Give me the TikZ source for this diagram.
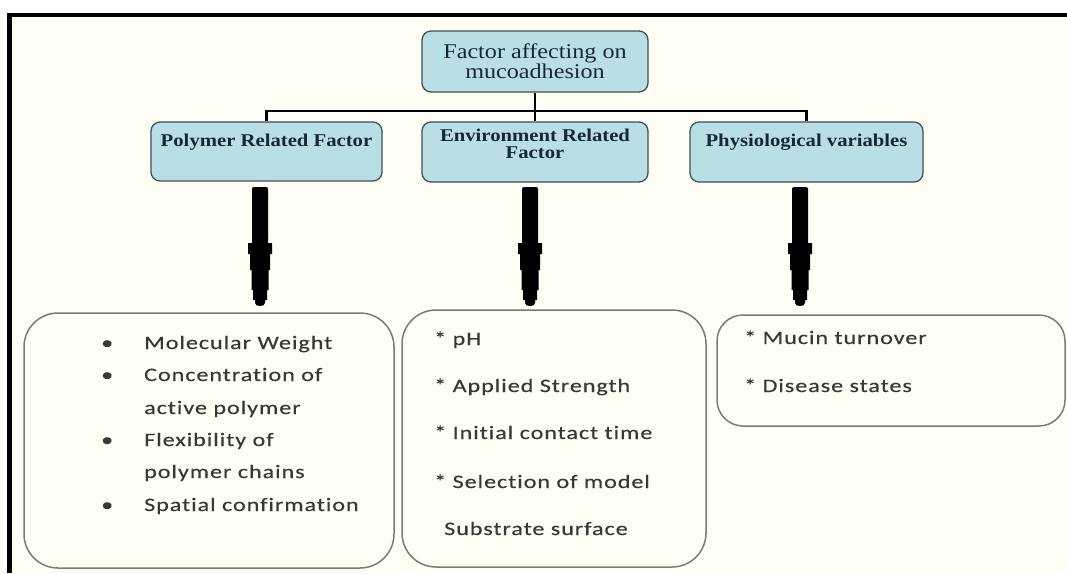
\documentclass[tikz,border=0pt]{standalone}
\usepackage{fontspec}
\setmainfont{Liberation Serif}
\newfontfamily\serifw{Liberation Serif}[FakeStretch=1.15]
\newfontfamily\sansw{Carlito}[FakeStretch=1.27,LetterSpace=5,Ligatures={NoCommon},FakeBold=0.3]
\definecolor{cream}{HTML}{FEFEF4}
\definecolor{boxblue}{HTML}{B9DFE4}
\definecolor{boxline}{HTML}{3E5058}
\definecolor{navy}{HTML}{15283A}
\definecolor{listgray}{HTML}{7A7A7A}
\definecolor{listtext}{HTML}{383838}
\tikzset{
  headbox/.style={draw=boxline, line width=1.3pt, fill=boxblue, rounded corners=9pt, inner sep=0pt},
  headtext/.style={text=navy, align=center, inner sep=0pt},
  listbox/.style={draw=listgray, line width=1.5pt, fill=cream, rounded corners=34pt, inner sep=0pt},
  item/.style={anchor=base west, inner sep=0pt, text=listtext, font=\sansw\fontsize{19}{22}\selectfont},
  conn/.style={line width=2.5pt, black},
  fatarrow/.pic={
    \fill[black] (-8,2) to[out=90,in=180] (-6,0) -- (6,0) to[out=0,in=90] (8,2)
      -- (8,56) -- (12,56) -- (12,67) -- (10,67) -- (10,83) -- (8.5,83) -- (8.5,103)
      -- (7,103) -- (7,113) -- (5,113) -- (5,116) to[out=-90,in=0] (0,119) to[out=180,in=-90] (-5,116)
      -- (-5,113) -- (-7,113) -- (-7,103) -- (-8.5,103) -- (-8.5,83) -- (-10,83) -- (-10,67)
      -- (-12,67) -- (-12,56) -- (-8,56) -- cycle;
  }
}
\begin{document}
\begin{tikzpicture}[x=1pt,y=-1pt]
\useasboundingbox (0,0) rectangle (1067,573);
\fill[white] (0,0) rectangle (1067,573);
\fill[cream] (7,13) rectangle (1067,573);
\fill[black] (7,12.5) rectangle (1067,16.5);
\fill[black] (7,12.5) rectangle (12,573);

% head boxes
\node[headbox, minimum width=226pt, minimum height=61pt, headtext,
      font=\serifw\fontsize{21}{20}\selectfont] (top) at (535,61.5)
      {Factor affecting on\\mucoadhesion};
\node[headbox, minimum width=231pt, minimum height=59pt] (p) at (266.5,151.5) {};
\node[headbox, minimum width=226pt, minimum height=60pt] (e) at (535,152) {};
\node[headbox, minimum width=233pt, minimum height=60pt] (ph) at (806.5,152) {};
\node[headtext, font=\serifw\bfseries\fontsize{18}{17}\selectfont] (pt) at (266.5,142) {Polymer Related Factor};
\node[headtext, font=\serifw\bfseries\fontsize{18}{17}\selectfont] (et) at (535,143.5) {Environment Related\\Factor};
\node[headtext, font=\serifw\bfseries\fontsize{18}{17}\selectfont] (pht) at (806.5,142) {Physiological variables};

% connectors
\coordinate (bus) at (535,111);
\draw[conn] (top.south) -- (bus);
\draw[conn] (p.north) -- (p.north |- bus) -- (ph.north |- bus) -- (ph.north);
\draw[conn] (e.north) -- (e.north |- bus);

% fat arrows
\pic at (260,187) {fatarrow};
\pic at (530,187) {fatarrow};
\pic at (800,187) {fatarrow};

% list boxes
\node[listbox, minimum width=370pt, minimum height=255pt] (lb) at (209,440.5) {};
\node[listbox, minimum width=304pt, minimum height=257pt] (mb) at (554,438.5) {};
\node[listbox, minimum width=348pt, minimum height=111pt, rounded corners=26pt] (rb) at (891,370.5) {};

% left list
\foreach \t/\y [count=\i] in {Molecular Weight/349, Concentration of/381, active polymer/414,
    Flexibility of/446, polymer chains/478, Spatial confirmation/511}
  \node[item] (l\i) at (144,\y) {\t};
\foreach \y [count=\i] in {349,381,446,511}
  \node[item] (b\i) at (101,\y) {•};

% middle list
\foreach \t/\y [count=\i] in {* pH/345, * Applied Strength/392, * Initial contact time/439,
    * Selection of model/488}
  \node[item] (m\i) at (434,\y) {\t};
\node[item] (m5) at (444,535) {Substrate surface};

% right list
\node[item] (r1) at (744,344) {* Mucin turnover};
\node[item] (r2) at (744,392) {* Disease states};
\end{tikzpicture}
\end{document}
